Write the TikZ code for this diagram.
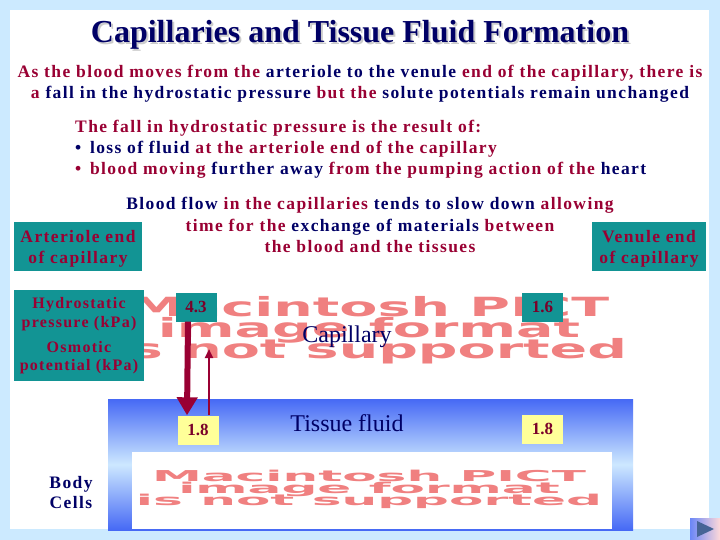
\documentclass[tikz,border=0pt]{standalone}
\usepackage{fontspec}
\setmainfont{Liberation Serif}
\newfontfamily\spacedfont[LetterSpace=8]{Liberation Serif}
\newfontfamily\pictfont{DejaVu Sans}
\usetikzlibrary{arrows.meta, positioning}

\definecolor{capred}{RGB}{153,0,51}
\definecolor{capnavy}{RGB}{0,0,102}
\definecolor{capteal}{RGB}{18,148,148}
\definecolor{capsky}{RGB}{204,234,255}
\definecolor{capblue}{RGB}{70,105,245}
\definecolor{caplight}{RGB}{205,232,255}
\definecolor{capyellow}{RGB}{255,255,153}
\definecolor{cappict}{RGB}{240,128,128}
\definecolor{capslate}{RGB}{70,100,150}

\newcommand{\tred}[1]{\textcolor{capred}{#1}}
\newcommand{\tnavy}[1]{\textcolor{capnavy}{#1}}

\begin{document}
\begin{tikzpicture}[x=1pt, y=-1pt,
		txt/.style={font=\spacedfont\fontsize{17.5}{20}\selectfont\bfseries, inner sep=0pt, anchor=base},
		small/.style={font=\spacedfont\fontsize{16}{19}\selectfont\bfseries, inner sep=0pt, anchor=base, text=capred},
		tealbox/.style={fill=capteal, inner sep=0pt},
		numbox/.style={inner sep=0pt, minimum width=41pt, minimum height=29pt, font=\fontsize{17}{20}\selectfont\bfseries},
		pict/.style={text=cappict, inner sep=0pt, font=\pictfont\bfseries},
		plain/.style={font=\fontsize{24}{27}\selectfont, text=capnavy, inner sep=0pt, anchor=base}
		]
		
		\useasboundingbox (0,0) rectangle (720,540);
		\fill[capsky] (0,0) rectangle (720,540);
		\fill[white] (10,10) rectangle (709,529);
		
		% ==========================================
		% 1. TITLE AND EXPLANATION
		% ==========================================
		\node[font=\fontsize{32}{36}\selectfont\bfseries, text=gray!40, inner sep=0pt, anchor=base] (tshadow) at (362,45) {Capillaries and Tissue Fluid Formation};
		\node[font=\fontsize{32}{36}\selectfont\bfseries, text=capnavy, inner sep=0pt, anchor=base] (title) at (360,43) {Capillaries and Tissue Fluid Formation};
		
		\node[txt] (moves) at (360,78) {\tred{As the blood moves from the} \tnavy{arteriole to the venule} \tred{end of the capillary, there is}};
		\node[txt] (fall) at (360,99) {\tred{a} \tnavy{fall in the hydrostatic pressure} \tred{but the} \tnavy{solute potentials remain unchanged}};
		
		% reasons for the fall, left aligned
		\foreach \txt [count=\k] in {
			{\tred{The fall in hydrostatic pressure is the result of:}},
			{\tnavy{\textbullet\ \,loss of fluid} \tred{at the arteriole end of the capillary}},
			{\tred{\textbullet\ \,blood moving} \tnavy{further away} \tred{from the pumping action of the} \tnavy{heart}}%
		} {
			\node[txt, anchor=base west] (reason-\k) at (75,112+21*\k) {\txt};
		}
		
		% slow flow
		\foreach \txt [count=\k] in {
			{\tnavy{Blood flow} \tred{in the capillaries} \tnavy{tends to slow down} \tred{allowing}},
			{\tred{time for the} \tnavy{exchange of materials} \tred{between}},
			{\tred{the blood and the tissues}}%
		} {
			\node[txt] (flow-\k) at (370,189+21*\k) {\txt};
		}
		
		% ==========================================
		% 2. CAPILLARY (picture placeholder)
		% ==========================================
		\node[pict] (pict-top) at (369,331) {\resizebox*{516pt}{74pt}{\begin{tabular}{@{}c@{}}Macintosh PICT\\[-4pt]image format\\[-4pt]is not supported\end{tabular}}};
		
		\node[tealbox, minimum width=128pt, minimum height=49pt] (artbox) at (78,246.5) {};
		\node[tealbox, minimum width=114pt, minimum height=49pt] (venbox) at (649,246.5) {};
		\foreach \nm/\x in {art/78, ven/649} {
			\node[txt, text=capred] (\nm-a) at (\x,243) {\ifnum\x=78 Arteriole end\else Venule end\fi};
			\node[txt, text=capred] (\nm-b) at (\x,263) {of capillary};
		}
		
		\node[tealbox, minimum width=130pt, minimum height=91pt] (hpbox) at (79,335.5) {};
		\node[small] (hp-a) at (79,308) {Hydrostatic};
		\node[small] (hp-b) at (79,327) {pressure (kPa)};
		\node[small] (op-a) at (79,352) {Osmotic};
		\node[small] (op-b) at (79,370) {potential (kPa)};
		
		\node[numbox, fill=capteal, text=capred!80!black] (hp-art) at (196,307) {4.3};
		\node[numbox, fill=capteal, text=capred!80!black] (hp-ven) at (542.5,307) {1.6};
		
		\node[plain] (cap) at (347,342) {Capillary};
		
		% ==========================================
		% 3. TISSUE FLUID AND BODY CELLS
		% ==========================================
		\node[inner sep=0pt, minimum width=525pt, minimum height=131pt, top color=capblue, bottom color=capblue, middle color=caplight] (fluid) at (370.5,464.5) {};
		\node[fill=white, inner sep=0pt, minimum width=480pt, minimum height=77pt] (cells) at (372,490.5) {};
		\node[pict] (pict-bot) at (369,490) {\resizebox*{466pt}{42pt}{\begin{tabular}{@{}c@{}}Macintosh PICT\\[-4pt]image format\\[-4pt]is not supported\end{tabular}}};
		
		\node[plain] (tissue) at (347,431) {Tissue fluid};
		\node[numbox, fill=capyellow, text=capred!80!black] (op-art) at (198,430) {1.8};
		\node[numbox, fill=capyellow, text=capred!80!black] (op-ven) at (542.5,429) {1.8};
		
		\node[txt, text=capnavy] (body) at (71,488) {Body};
		\node[txt, text=capnavy] (cells-lbl) at (71,508) {Cells};
		
		% pressure arrows
		\coordinate (up-end) at (209,349);
		\draw[capred, line width=6pt, -{Triangle[width=20pt,length=18pt]}] ([xshift=-8pt]hp-art.south) -- ([xshift=-11pt]op-art.north);
		\draw[capred, line width=2.5pt, -{Triangle[width=8pt,length=9pt]}] ([xshift=11pt]op-art.north) -- (up-end);
		
		% next slide button
		\node[inner sep=0pt, minimum width=30pt, minimum height=22pt, left color=capblue!80, right color=pink!60] (nextbtn) at (705,529) {};
		\fill[capslate] (697,521) -- (714,529) -- (697,537) -- cycle;
		
	\end{tikzpicture}
\end{document}
